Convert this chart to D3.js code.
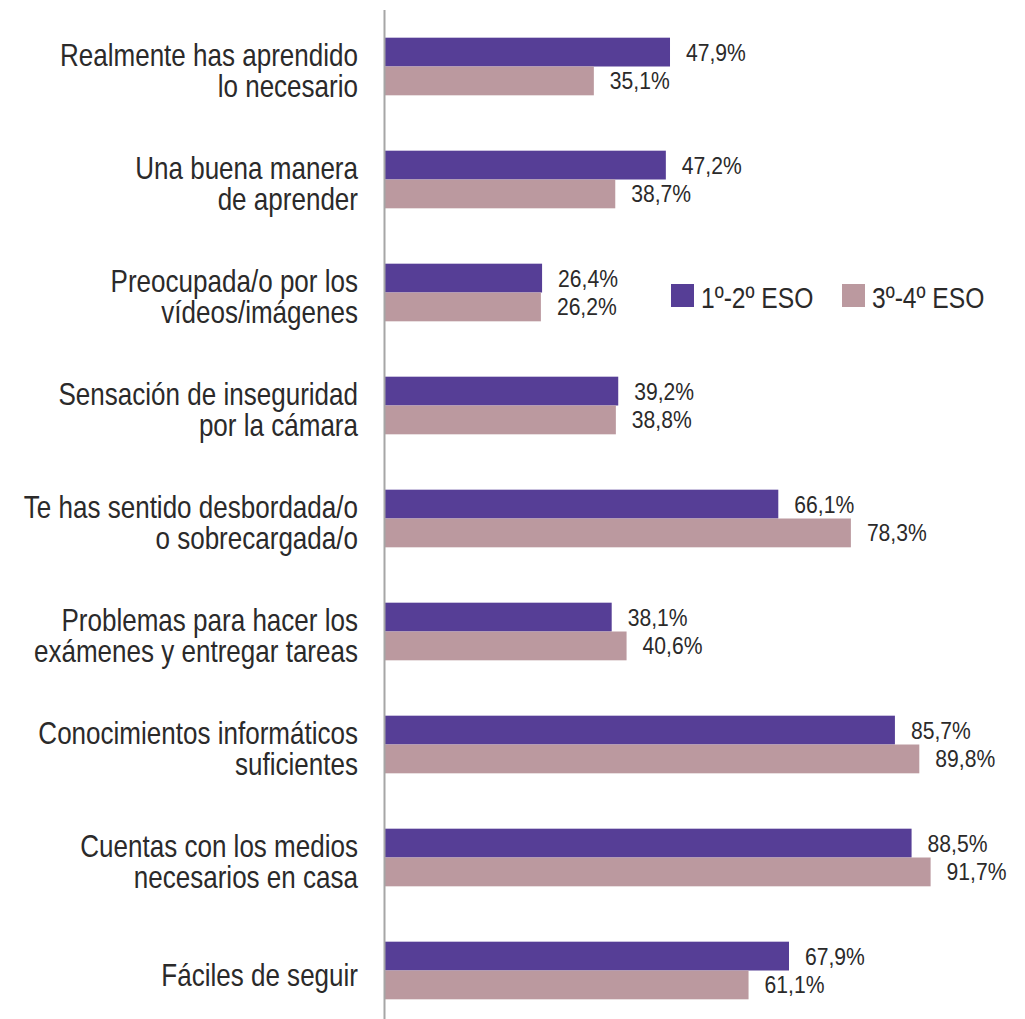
<!DOCTYPE html>
<html><head><meta charset="utf-8">
<script src="https://cdn.jsdelivr.net/npm/d3@7"></script>
<style>
html,body{margin:0;padding:0;background:#fff;}
text{font-family:"Liberation Sans",Arial,sans-serif;fill:#2b2a2a;}
</style></head>
<body><svg id="c" width="1025" height="1019"></svg>
<script>
const categories = [
  ["Realmente has aprendido","lo necesario"],
  ["Una buena manera","de aprender"],
  ["Preocupada/o por los","vídeos/imágenes"],
  ["Sensación de inseguridad","por la cámara"],
  ["Te has sentido desbordada/o","o sobrecargada/o"],
  ["Problemas para hacer los","exámenes y entregar tareas"],
  ["Conocimientos informáticos","suficientes"],
  ["Cuentas con los medios","necesarios en casa"],
  ["Fáciles de seguir"]
];
const seriesNames = ["1º-2º ESO","3º-4º ESO"];
const values1 = [47.9,47.2,26.4,39.2,66.1,38.1,85.7,88.5,67.9];
const values2 = [35.1,38.7,26.2,38.8,78.3,40.6,89.8,91.7,61.1];
const colors = ["#563e96","#bb999f"];

const svg = d3.select("#c");
const keys = categories.map((c,i)=>"c"+i);
const y0 = d3.scaleBand().domain(keys).range([10,1027]).paddingInner(0.49).paddingOuter(0.245);
const y1 = d3.scaleBand().domain(seriesNames).range([0,y0.bandwidth()]);
const x = d3.scaleLinear().domain([0,100]).range([385,980]);
const fmt = v => d3.format(".1f")(v).replace(".",",")+"%";

// condensed text helper
function ctext(parent, px, py, size, sx, str, anchor){
  return parent.append("text")
    .attr("transform",`translate(${px},${py}) scale(${sx},1)`)
    .attr("text-anchor",anchor||"start")
    .attr("font-size",size).text(str);
}

const series = [values1, values2];
const g = svg.append("g");
keys.forEach((k,i)=>{
  series.forEach((vals,s)=>{
    const yy = y0(k)+y1(seriesNames[s]);
    g.append("rect").attr("x",x(0)).attr("y",yy)
      .attr("width",x(vals[i])-x(0)).attr("height",y1.bandwidth())
      .attr("fill",colors[s]);
    ctext(g, x(vals[i])+16, yy+y1.bandwidth()/2+8.5, 24, 0.88, fmt(vals[i]));
  });
  const lines = categories[i];
  const cy = y0(k)+y0.bandwidth()/2;
  const lh = 31.5;
  lines.forEach((ln,j)=>{
    ctext(g, 358, cy+4+11+(j-(lines.length-1)/2)*lh, 31, 0.84, ln, "end");
  });
});

svg.append("line").attr("x1",384.5).attr("x2",384.5).attr("y1",10).attr("y2",1019)
  .attr("stroke","#a6a6a6").attr("stroke-width",2);

const legX = [671,842];
seriesNames.forEach((n,s)=>{
  svg.append("rect").attr("x",legX[s]).attr("y",284).attr("width",23).attr("height",23).attr("fill",colors[s]);
  ctext(svg, legX[s]+30, 307.5, 30, 0.82, n);
});
</script></body></html>
